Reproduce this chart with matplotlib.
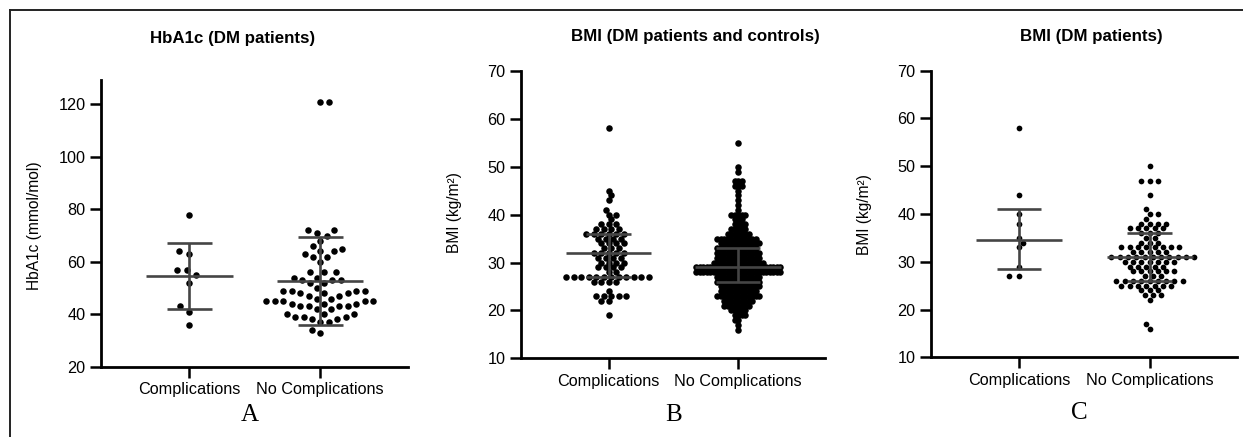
import numpy as np
import matplotlib
matplotlib.use("Agg")
import matplotlib.pyplot as plt
from matplotlib.lines import Line2D

plt.rcParams['font.family'] = ['Liberation Sans', 'DejaVu Sans']

W, H = 1243, 437

groups = ["Complications", "No Complications"]

# A - HbA1c, DM patients (mean +/- SD)
hba1c_comp = [78, 64, 63, 57, 57, 55, 52, 43, 41, 36]
hba1c_nocomp = [121, 121, 72, 72, 71, 70, 68, 66, 65, 64, 64, 63, 62, 62, 60,
                56, 56, 56, 54, 54, 53, 53, 53, 52, 52, 50, 49, 49, 49, 49,
                48, 48, 48, 47, 47, 46, 46, 45, 45, 45, 45, 45, 44, 44, 44,
                43, 43, 43, 43, 42, 42, 40, 40, 40, 39, 39, 39, 38, 38, 37,
                37, 34, 33]
hba1c_center = [54.6, 52.8]
hba1c_low = [42.1, 35.9]
hba1c_high = [67.0, 69.5]

# B - BMI, DM patients and controls (median, IQR)
bmi_all_comp_levels = [58, 45, 44, 43, 41, 40, 39, 38, 37, 36, 35, 34, 33, 32,
                       31, 30, 29, 28, 27, 26, 24, 23, 22, 19]
bmi_all_comp_counts = [1, 1, 1, 1, 1, 2, 1, 3, 4, 6, 4, 4, 3, 5,
                       4, 4, 4, 2, 12, 4, 1, 5, 2, 1]
bmi_all_nocomp_levels = [55, 50, 49, 47, 46, 45, 44, 43, 42, 41, 40, 39, 38, 37,
                         36, 35, 34, 33, 32, 31, 30, 29, 28, 27, 26, 25, 24, 23,
                         22, 21, 20, 19, 18, 17, 16]
bmi_all_nocomp_counts = [1, 1, 1, 3, 3, 1, 1, 1, 1, 1, 5, 3, 4, 5,
                         7, 12, 12, 12, 13, 13, 15, 25, 25, 13, 13, 12, 11, 13,
                         9, 8, 5, 4, 2, 1, 1]
bmi_all_center = [32, 29]
bmi_all_low = [27, 26]
bmi_all_high = [36, 33]

# C - BMI, DM patients (median, IQR)
bmi_dm_comp = [58, 44, 40, 38, 35, 34, 33, 29, 27, 27]
bmi_dm_nocomp_levels = [50, 47, 44, 41, 40, 39, 38, 37, 36, 35, 34, 33, 32, 31,
                        30, 29, 28, 27, 26, 25, 24, 23, 22, 17, 16]
bmi_dm_nocomp_counts = [1, 3, 1, 1, 2, 1, 4, 5, 3, 2, 3, 8, 5, 11,
                        7, 5, 6, 3, 9, 7, 3, 3, 1, 1, 1]
bmi_dm_center = [34.5, 31]
bmi_dm_low = [28.5, 26]
bmi_dm_high = [41, 36]


def swarm(vals, ppu, sx, sy):
    # greedy beeswarm in pixel space (elliptic spacing), x offsets in pixels
    vals = np.asarray(vals, float)
    order = np.argsort(vals, kind="stable")
    xs = np.zeros(len(vals))
    placed = []
    flip = 1
    for i in order:
        y = vals[i] * ppu
        blocks = []
        cands = [0.0]
        for px, py in placed:
            dy = abs(py - y) / sy
            if dy < 1 - 1e-9:
                w = sx * np.sqrt(1 - dy ** 2)
                blocks.append((px - w, px + w))
                cands += [px - w, px + w]
        ok = [c for c in cands
              if all(c <= a + 1e-6 or c >= b - 1e-6 for a, b in blocks)]
        best = min(ok, key=lambda c: (round(abs(c), 4), c * flip))
        if best != 0:
            flip = -flip
        xs[i] = best
        placed.append((best, y))
    return xs


fig = plt.figure(figsize=(W / 100, H / 100), dpi=100)

line_kw = dict(color='#454545', lw=1.9, solid_capstyle='butt', zorder=3)


def panel(box, data, center, low, high, ylim, yticks, spacing, msize,
          ylabel, ylab_xy, title, title_xy, letter, letter_xy):
    x0, ytop, x1, ybot = box
    ax = fig.add_axes([x0 / W, 1 - ybot / H, (x1 - x0) / W, (ybot - ytop) / H])
    xlim = (-0.675, 1.67)
    ppx = (x1 - x0) / (xlim[1] - xlim[0])
    ppu = (ybot - ytop) / (ylim[1] - ylim[0])
    for i, vals in enumerate(data):
        off = swarm(vals, ppu, *spacing[i]) / ppx
        ax.scatter(i + off, vals, s=msize, color='black', linewidths=0,
                   zorder=2, clip_on=False)
        ax.plot([i - 0.33, i + 0.33], [center[i]] * 2, **line_kw)
        ax.plot([i - 0.17, i + 0.17], [low[i]] * 2, **line_kw)
        ax.plot([i - 0.17, i + 0.17], [high[i]] * 2, **line_kw)
        ax.plot([i, i], [low[i], high[i]], **line_kw)
    ax.set_xlim(xlim)
    ax.set_ylim(ylim)
    ax.set_yticks(yticks)
    ax.set_xticks([0, 1])
    ax.set_xticklabels(groups)
    for s in ['top', 'right']:
        ax.spines[s].set_visible(False)
    for s in ['left', 'bottom']:
        ax.spines[s].set_linewidth(2.0)
        ax.spines[s].set_color('black')
    ax.tick_params(width=1.8, length=8, labelsize=11.7, pad=3, colors='black')
    ax.patch.set_alpha(0)
    fig.text(ylab_xy[0] / W, 1 - ylab_xy[1] / H, ylabel, rotation=90,
             ha='center', va='center', fontsize=11.2)
    fig.text(title_xy[0] / W, 1 - title_xy[1] / H, title, ha='center',
             va='center', fontsize=12.2, fontweight='bold')
    fig.text(letter_xy[0] / W, 1 - letter_xy[1] / H, letter, ha='center',
             va='center', fontsize=18, family='Liberation Serif')
    return ax


panel((101, 80, 408, 366.7), [hba1c_comp, hba1c_nocomp],
      hba1c_center, hba1c_low, hba1c_high, (20, 129.3), range(20, 121, 20),
      [(10.5, 10.5), (8.7, 8.7)], 22, "HbA1c (mmol/mol)", (35, 226),
      "HbA1c (DM patients)", (233, 38), "A", (250, 415))

panel((521, 71, 825, 358.3),
      [np.repeat(bmi_all_comp_levels, bmi_all_comp_counts),
       np.repeat(bmi_all_nocomp_levels, bmi_all_nocomp_counts)],
      bmi_all_center, bmi_all_low, bmi_all_high, (10, 70), range(10, 71, 10),
      [(7.5, 5.2), (3.5, 4.0)], 22, "BMI (kg/m²)", (455, 213),
      "BMI (DM patients and controls)", (695, 37), "B", (674, 415))

panel((931, 70.7, 1237, 357.3),
      [bmi_dm_comp, np.repeat(bmi_dm_nocomp_levels, bmi_dm_nocomp_counts)],
      bmi_dm_center, bmi_dm_low, bmi_dm_high, (10, 70), range(10, 71, 10),
      [(10, 5.2), (8.3, 5.2)], 17, "BMI (kg/m²)", (865, 215),
      "BMI (DM patients)", (1091, 37), "C", (1079, 413))

# outer frame (left and top edges)
fig.add_artist(Line2D([9.5 / W, 9.5 / W], [0, 1 - 10 / H], color='#222222',
                      lw=1.4, transform=fig.transFigure))
fig.add_artist(Line2D([9.5 / W, 1], [1 - 10 / H, 1 - 10 / H], color='#222222',
                      lw=1.4, transform=fig.transFigure))

fig.savefig("out.png", dpi=100)
